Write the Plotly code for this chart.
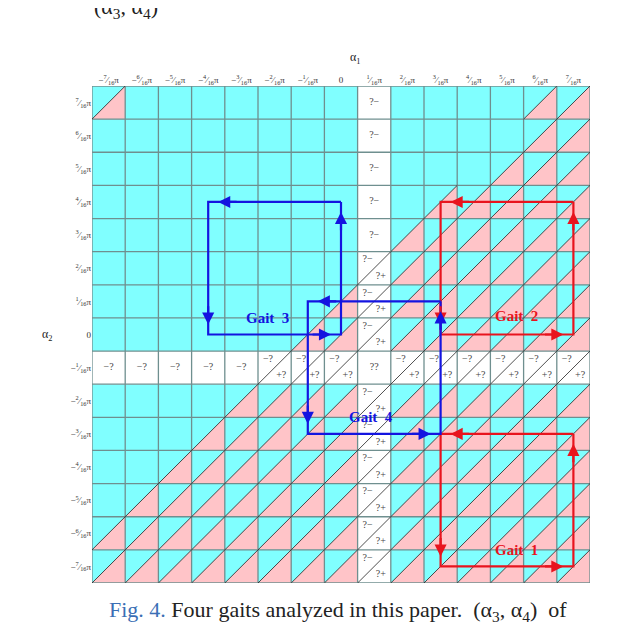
import plotly.graph_objects as go

# ---- data ----
alpha3_vals = list(range(-7, 8))            # column positions (units of pi/16)
alpha4_vals = list(range(7, -8, -1))        # row positions top->bottom
tick_labels = ["−<sup>7</sup>⁄<sub>16</sub>π", "−<sup>6</sup>⁄<sub>16</sub>π", "−<sup>5</sup>⁄<sub>16</sub>π",
               "−<sup>4</sup>⁄<sub>16</sub>π", "−<sup>3</sup>⁄<sub>16</sub>π", "−<sup>2</sup>⁄<sub>16</sub>π",
               "−<sup>1</sup>⁄<sub>16</sub>π", "0", "<sup>1</sup>⁄<sub>16</sub>π", "<sup>2</sup>⁄<sub>16</sub>π",
               "<sup>3</sup>⁄<sub>16</sub>π", "<sup>4</sup>⁄<sub>16</sub>π", "<sup>5</sup>⁄<sub>16</sub>π",
               "<sup>6</sup>⁄<sub>16</sub>π", "<sup>7</sup>⁄<sub>16</sub>π"]
white_col = 1   # alpha3 = 1/16 pi
white_row = -1  # alpha4 = -1/16 pi
# split (pink lower-right triangle) cells per row index (top->bottom), column indices
split_cols = {
    0: [0, 13, 14], 1: [13, 14], 2: [12, 13, 14], 3: [10, 11, 12, 13, 14],
    4: [9, 10, 11, 12, 13, 14], 5: [8, 9, 10, 11, 12, 13, 14],
    6: [7, 8, 9, 10, 11, 12, 13, 14], 7: [6, 7, 8, 9, 10, 11, 12, 13, 14],
    8: [5, 6, 7, 9, 10, 11, 12, 13, 14],
    9: [4, 5, 6, 7, 8, 9, 10, 11, 12, 13, 14], 10: [3, 4, 5, 6, 7, 8, 9, 10, 11, 12, 13, 14],
    11: list(range(2, 15)), 12: list(range(1, 15)), 13: list(range(0, 15)), 14: list(range(0, 15)),
}
gaits = {
    "Gait 1": {"x": [7, 3, 3, 7, 7], "y": [-3, -3, -7, -7, -3], "color": "#e8141e", "label": (5.3, -6.5)},
    "Gait 2": {"x": [7, 3, 3, 7, 7], "y": [4, 4, 0, 0, 4], "color": "#e8141e", "label": (5.3, 0.55)},
    "Gait 3": {"x": [0, -4, -4, 0, 0], "y": [4, 4, 0, 0, 4], "color": "#1414e0", "label": (-2.2, 0.5)},
    "Gait 4": {"x": [3, -1, -1, 3, 3], "y": [1, 1, -3, -3, 1], "color": "#1414e0", "label": (0.9, -2.5)},
}

CYAN = "#80ffff"
PINK = "#ffc4c8"

fig = go.Figure()
cx, cy, wx, wy, px, py, dx, dy = [], [], [], [], [], [], [], []
tx, ty, tt = [], [], []
for j, a4 in enumerate(alpha4_vals):
    for i, a3 in enumerate(alpha3_vals):
        x0, x1, y0, y1 = a3 - 0.5, a3 + 0.5, a4 - 0.5, a4 + 0.5
        white = (a3 == white_col) or (a4 == white_row)
        bx, by = (wx, wy) if white else (cx, cy)
        bx += [x0, x1, x1, x0, x0, None]
        by += [y0, y0, y1, y1, y0, None]
        split = i in split_cols.get(j, [])
        if split:
            if not white:
                px += [x0, x1, x1, x0, None]
                py += [y0, y0, y1, y0, None]
            dx += [x0, x1, None]
            dy += [y0, y1, None]
        if white:
            if a3 == white_col and a4 == white_row:
                tx.append(a3); ty.append(a4); tt.append("??")
            elif a3 == white_col:
                if split:
                    tx += [a3 - 0.2, a3 + 0.2]; ty += [a4 + 0.25, a4 - 0.25]; tt += ["?−", "?+"]
                else:
                    tx.append(a3); ty.append(a4); tt.append("?−")
            else:
                if split:
                    tx += [a3 - 0.2, a3 + 0.2]; ty += [a4 + 0.25, a4 - 0.25]; tt += ["−?", "+?"]
                else:
                    tx.append(a3); ty.append(a4); tt.append("−?")

fig.add_trace(go.Scatter(x=cx, y=cy, fill="toself", fillcolor=CYAN, mode="none", hoverinfo="skip"))
fig.add_trace(go.Scatter(x=wx, y=wy, fill="toself", fillcolor="white", mode="none", hoverinfo="skip"))
fig.add_trace(go.Scatter(x=px, y=py, fill="toself", fillcolor=PINK, mode="none", hoverinfo="skip"))
# grid lines
gx, gy = [], []
for k in range(16):
    v = -7.5 + k
    gx += [v, v, None, -7.5, 7.5, None]
    gy += [-7.5, 7.5, None, v, v, None]
fig.add_trace(go.Scatter(x=gx, y=gy, mode="lines", line=dict(color="#6f8f8f", width=1.3), hoverinfo="skip"))
fig.add_trace(go.Scatter(x=dx, y=dy, mode="lines", line=dict(color="#222", width=0.8), hoverinfo="skip"))
fig.add_trace(go.Scatter(x=tx, y=ty, mode="text", text=tt,
                         textfont=dict(family="Liberation Serif", size=10, color="#444"), hoverinfo="skip"))

anns = []
for name, g in gaits.items():
    fig.add_trace(go.Scatter(x=g["x"], y=g["y"], mode="lines", line=dict(color=g["color"], width=2.2),
                             hoverinfo="skip"))
    for k in range(4):
        xa, ya, xb, yb = g["x"][k], g["y"][k], g["x"][k + 1], g["y"][k + 1]
        sx = (xb > xa) - (xb < xa); sy = (yb > ya) - (yb < ya)
        ex, ey = xb - 0.3 * sx, yb - 0.3 * sy
        anns.append(dict(x=ex, y=ey, ax=ex - 0.6 * sx, ay=ey - 0.6 * sy, xref="x", yref="y",
                         axref="x", ayref="y", showarrow=True, arrowhead=2, arrowsize=1.1,
                         arrowwidth=2.2, arrowcolor=g["color"], text=""))
    lx, ly = g["label"]
    anns.append(dict(x=lx, y=ly, xref="x", yref="y", text="<b>%s</b>" % name.replace(" ", "  "),
                     showarrow=False, font=dict(family="Liberation Serif", size=15, color=g["color"])))

anns.append(dict(x=0.42, y=1.0, xref="x", yref="paper", yshift=38, text="α<sub>1</sub>", showarrow=False,
                 font=dict(family="Liberation Serif", size=12, color="#222")))
anns.append(dict(x=-0.09, y=0, xref="paper", yref="y", xanchor="center", text="α<sub>2</sub>", showarrow=False,
                 font=dict(family="Liberation Serif", size=12, color="#222")))
anns.append(dict(x=0.03, y=-0.025, xref="paper", yref="paper", xanchor="left", yanchor="top",
                 text="<span style='color:#3b6fb5'>Fig. 4.</span> Four gaits analyzed in this paper.  "
                      "(α<sub>3</sub>, α<sub>4</sub>)  of",
                 showarrow=False, font=dict(family="Liberation Serif", size=22, color="#222")))
anns.append(dict(x=0.0, y=-0.085, xref="paper", yref="paper", xanchor="left", yanchor="top",
                 text="Gait 1 and Gait 2 are blue. (α<sub>1</sub>, α<sub>2</sub>), (α<sub>3</sub>, α<sub>4</sub>) of Gait 3",
                 showarrow=False, font=dict(family="Liberation Serif", size=22, color="#222")))
anns.append(dict(x=0.0, y=1.0, xref="paper", yref="paper", xanchor="left", yanchor="bottom", yshift=62,
                 text="(α<sub>3</sub>, α<sub>4</sub>)", showarrow=False,
                 font=dict(family="Liberation Serif", size=22, color="#222")))

fig.update_layout(
    width=622, height=630, showlegend=False, plot_bgcolor="white", paper_bgcolor="white",
    margin=dict(l=84, r=40, t=78, b=55, autoexpand=False), annotations=anns,
    xaxis=dict(range=[-7.5, 7.5], side="top", tickvals=alpha3_vals, ticktext=tick_labels,
               showgrid=False, zeroline=False, ticks="", fixedrange=True, automargin=False,
               tickfont=dict(family="Liberation Serif", size=9, color="#333")),
    yaxis=dict(range=[-7.5, 7.5], tickvals=alpha4_vals, ticktext=[tick_labels[14 - k] for k in range(15)],
               showgrid=False, zeroline=False, ticks="", fixedrange=True, automargin=False,
               tickfont=dict(family="Liberation Serif", size=9, color="#333")),
)
fig.write_html("out.html")
